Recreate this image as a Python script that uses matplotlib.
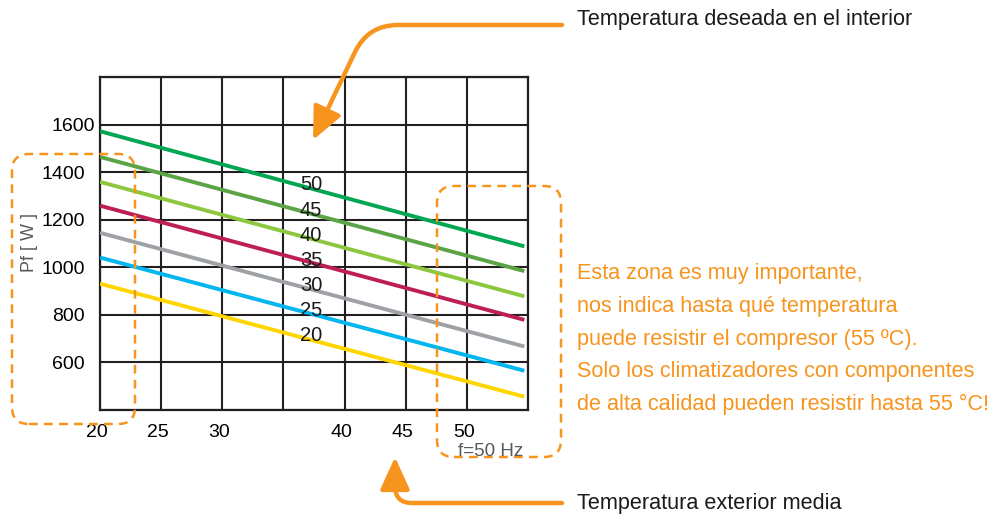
import matplotlib.pyplot as plt
from matplotlib.patches import FancyArrowPatch, FancyBboxPatch
from matplotlib.path import Path
from matplotlib.transforms import ScaledTranslation

plt.rcParams['font.family'] = ['Liberation Sans', 'DejaVu Sans']

# data
t_int = [50, 45, 40, 35, 30, 25, 20]
t_ext = [20, 54.7]
pf_start = [1572, 1464, 1359, 1259, 1145, 1041, 931]
pf_end = [1088, 984, 878, 779, 667, 565, 456]
colors = ['#00a651', '#5ba446', '#8dc63f', '#be1e57', '#9ea2a6', '#00b6ee', '#ffd500']
label_y = [1347, 1240, 1135, 1030, 925, 820, 713]

xticks = [20, 25, 30, 35, 40, 45, 50, 55]
xlabels = ['20', '25', '30', '', '40', '45', '50', '']
yticks = [400, 600, 800, 1000, 1200, 1400, 1600, 1800]
ylabels = ['', '600', '800', '1000', '1200', '1400', '1600', '']

orange = '#f7941d'

fig = plt.figure(figsize=(9.97, 5.15), dpi=100)
ax = fig.add_axes([100/997, 1-410/515, 428/997, 333/515])

for i in range(len(t_int)):
    ax.plot(t_ext, [pf_start[i], pf_end[i]], color=colors[i], lw=2.8, solid_capstyle='butt', zorder=3)
    ax.text(36.35, label_y[i], str(t_int[i]), fontsize=14.5, ha='left', va='center', color='#1a1a1a', zorder=4)

ax.set_xlim(20, 55)
ax.set_ylim(400, 1800)
ax.set_xticks(xticks)
ax.set_xticklabels(xlabels, fontsize=14)
ax.set_yticks(yticks)
ax.set_yticklabels(ylabels, fontsize=14)
ax.tick_params(length=0, pad=10)
ax.tick_params(axis='y', pad=11)
ax.grid(True, color='#231f20', lw=1.5)
for s in ax.spines.values():
    s.set_color('#231f20')
    s.set_linewidth(1.6)

# x labels sit a little left of their gridlines, 1600 sits closer to the axis
for lbl in ax.get_xticklabels():
    lbl.set_transform(lbl.get_transform() + ScaledTranslation(-0.03, 0, fig.dpi_scale_trans))
lbl = ax.get_yticklabels()[6]
lbl.set_transform(lbl.get_transform() + ScaledTranslation(0.1, 0, fig.dpi_scale_trans))

fig.text(29/997, 1-242/515, 'Pf [ W ]', rotation=90, ha='center', va='center', fontsize=13, color='#555a5f')
fig.text(491/997, 1-452/515, 'f=50 Hz', ha='center', va='center', fontsize=13.5, color='#555a5f')

px = fig.dpi_scale_trans
def P(x, y):
    return (x/100, (515-y)/100)

# dashed rounded boxes
for (x0, y0, x1, y1) in [(12, 154, 135, 424), (437, 186, 561, 457)]:
    b = FancyBboxPatch(P(x0, y1), (x1-x0)/100, (y1-y0)/100,
                       boxstyle='round,pad=0,rounding_size=0.17', transform=px,
                       fill=False, ec=orange, lw=1.8, ls=(0, (3.5, 2.5)))
    fig.patches.append(b)

# arrows
codes = [Path.MOVETO, Path.LINETO, Path.CURVE3, Path.CURVE3, Path.LINETO]
top = Path([P(562, 25), P(398, 25), P(368, 25), P(355, 52), P(313, 140)], codes)
bot = Path([P(562, 503), P(412, 503), P(395, 503), P(395, 486), P(395, 457)], codes)
for p in [top, bot]:
    a = FancyArrowPatch(path=p, arrowstyle='-|>,head_length=1.1,head_width=0.5',
                        mutation_scale=18, color=orange, lw=3.2, transform=px,
                        shrinkA=0, shrinkB=0)
    fig.patches.append(a)

fig.text(577/997, 1-20/515, 'Temperatura deseada en el interior', fontsize=15.6, va='center', color='#1a1a1a')
fig.text(577/997, 1-503/515, 'Temperatura exterior media', fontsize=15.6, va='center', color='#1a1a1a')

notes = ['Esta zona es muy importante,',
         'nos indica hasta qué temperatura',
         'puede resistir el compresor (55 ºC).',
         'Solo los climatizadores con componentes',
         'de alta calidad pueden resistir hasta 55 °C!']
for i, t in enumerate(notes):
    fig.text(577/997, 1-(274+32.5*i)/515, t, fontsize=15.6, va='center', color=orange)

fig.savefig('out.png', dpi=100)
